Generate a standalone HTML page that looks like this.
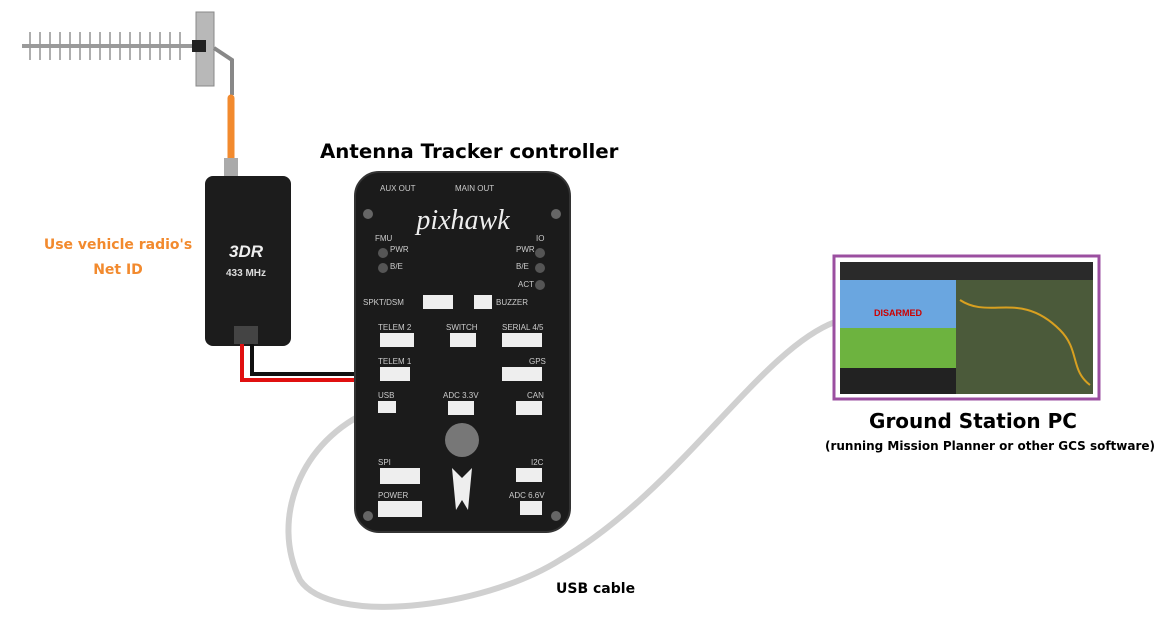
<!DOCTYPE html>
<html><head><meta charset="utf-8"><style>
html,body{margin:0;padding:0;background:#fff;}
body{width:1170px;height:619px;overflow:hidden;position:relative;font-family:"Liberation Sans",sans-serif;}
.d{font-family:"DejaVu Sans",sans-serif;font-weight:bold;position:absolute;}
</style></head><body>
<svg width="1170" height="619" viewBox="0 0 1170 619" xmlns="http://www.w3.org/2000/svg" style="position:absolute;left:0;top:0">
<path d="M372 410 C300 440 270 520 300 580 C330 625 480 610 560 560 C680 490 760 350 835 322" fill="none" stroke="#d0d0d0" stroke-width="6" stroke-linecap="round"/>
<g stroke="#9a9a9a" stroke-width="2">
<line x1="22" y1="46" x2="200" y2="46" stroke-width="4"/>
<g stroke-width="1.6">
<line x1="30" y1="32" x2="30" y2="60"/><line x1="40" y1="32" x2="40" y2="60"/><line x1="50" y1="32" x2="50" y2="60"/>
<line x1="60" y1="32" x2="60" y2="60"/><line x1="70" y1="32" x2="70" y2="60"/><line x1="80" y1="32" x2="80" y2="60"/>
<line x1="90" y1="32" x2="90" y2="60"/><line x1="100" y1="32" x2="100" y2="60"/><line x1="110" y1="32" x2="110" y2="60"/>
<line x1="120" y1="32" x2="120" y2="60"/><line x1="130" y1="32" x2="130" y2="60"/><line x1="140" y1="32" x2="140" y2="60"/>
<line x1="150" y1="32" x2="150" y2="60"/><line x1="160" y1="32" x2="160" y2="60"/><line x1="170" y1="32" x2="170" y2="60"/>
<line x1="180" y1="32" x2="180" y2="60"/>
</g></g>
<rect x="196" y="12" width="18" height="74" fill="#b8b8b8" stroke="#888"/>
<rect x="192" y="40" width="14" height="12" fill="#222"/>
<path d="M214 48 L232 60 L232 95" fill="none" stroke="#888" stroke-width="4"/>
<line x1="231" y1="98" x2="231" y2="158" stroke="#f28a2e" stroke-width="7" stroke-linecap="round"/>
<rect x="224" y="158" width="14" height="22" fill="#aaa"/>
<rect x="205" y="176" width="86" height="170" rx="8" fill="#1c1c1c"/>
<text x="246" y="257" fill="#eee" font-size="17" font-weight="bold" font-style="italic" text-anchor="middle">3DR</text>
<text x="246" y="276" fill="#ddd" font-size="10" font-weight="bold" text-anchor="middle">433 MHz</text>
<rect x="234" y="326" width="24" height="18" fill="#444"/>
<path d="M242 344 L242 380 L412 380" fill="none" stroke="#e01010" stroke-width="4"/>
<path d="M252 344 L252 374 L412 374" fill="none" stroke="#111" stroke-width="4"/>
<rect x="355" y="172" width="215" height="360" rx="24" fill="#1b1b1b"/>
<rect x="355" y="172" width="215" height="360" rx="24" fill="none" stroke="#333" stroke-width="2"/>
<text x="463" y="229" fill="#eee" font-size="28" font-style="italic" font-family="Liberation Serif,serif" text-anchor="middle">pixhawk</text>
<g fill="#ccc" font-size="8">
<text x="380" y="191">AUX OUT</text><text x="455" y="191">MAIN OUT</text>
<text x="375" y="241">FMU</text><text x="390" y="252">PWR</text><text x="390" y="269">B/E</text>
<text x="516" y="252">PWR</text><text x="516" y="269">B/E</text><text x="518" y="287">ACT</text><text x="536" y="241">IO</text>
<text x="363" y="305">SPKT/DSM</text><text x="496" y="305">BUZZER</text>
<text x="378" y="330">TELEM 2</text><text x="446" y="330">SWITCH</text><text x="502" y="330">SERIAL 4/5</text>
<text x="378" y="364">TELEM 1</text><text x="529" y="364">GPS</text>
<text x="378" y="398">USB</text><text x="443" y="398">ADC 3.3V</text><text x="527" y="398">CAN</text>
<text x="378" y="465">SPI</text><text x="531" y="465">I2C</text>
<text x="378" y="498">POWER</text><text x="509" y="498">ADC 6.6V</text>
</g>
<g fill="#555"><circle cx="383" cy="253" r="5"/><circle cx="383" cy="268" r="5"/><circle cx="540" cy="253" r="5"/><circle cx="540" cy="268" r="5"/><circle cx="540" cy="285" r="5"/></g>
<g fill="#eee"><rect x="423" y="295" width="30" height="14"/><rect x="474" y="295" width="18" height="14"/>
<rect x="380" y="333" width="34" height="14"/><rect x="450" y="333" width="26" height="14"/><rect x="502" y="333" width="40" height="14"/>
<rect x="380" y="367" width="30" height="14"/><rect x="502" y="367" width="40" height="14"/>
<rect x="378" y="401" width="18" height="12"/><rect x="448" y="401" width="26" height="14"/><rect x="516" y="401" width="26" height="14"/>
<rect x="380" y="468" width="40" height="16"/><rect x="516" y="468" width="26" height="14"/>
<rect x="378" y="501" width="44" height="16"/><rect x="520" y="501" width="22" height="14"/></g>
<circle cx="462" cy="440" r="17" fill="#777"/>
<path d="M452 468 L462 478 L472 468 L468 510 L462 500 L456 510 Z" fill="#eee"/>
<g fill="#666"><circle cx="368" cy="214" r="5"/><circle cx="556" cy="214" r="5"/><circle cx="368" cy="516" r="5"/><circle cx="556" cy="516" r="5"/></g>
<rect x="834" y="256" width="265" height="143" fill="#fff" stroke="#9b4fa0" stroke-width="3"/>
<rect x="840" y="262" width="253" height="18" fill="#2a2a2a"/>
<rect x="840" y="280" width="116" height="48" fill="#6aa6e0"/>
<rect x="840" y="328" width="116" height="40" fill="#6db33f"/>
<rect x="840" y="368" width="116" height="26" fill="#222"/>
<rect x="956" y="280" width="137" height="114" fill="#4b5a3a"/>
<path d="M960 300 C990 320 1020 290 1060 330 C1080 350 1070 370 1090 385" stroke="#d8a020" stroke-width="2" fill="none"/>
<text x="898" y="316" fill="#c00" font-size="9" font-weight="bold" text-anchor="middle">DISARMED</text>
</svg>
<div class="d" style="left:320px;top:140px;font-size:19.8px;color:#000;white-space:nowrap">Antenna Tracker controller</div>
<div class="d" style="left:18px;top:233px;width:200px;text-align:center;font-size:14px;color:#f28a2e;line-height:25px">Use vehicle radio's<br>Net ID</div>
<div class="d" style="left:823px;top:409px;width:300px;text-align:center;font-size:20px;color:#000">Ground Station PC</div>
<div class="d" style="left:790px;top:439px;width:400px;text-align:center;font-size:12px;color:#000;white-space:nowrap">(running Mission Planner or other GCS software)</div>
<div class="d" style="left:556px;top:581px;font-size:14px;color:#000">USB cable</div>
</body></html>
